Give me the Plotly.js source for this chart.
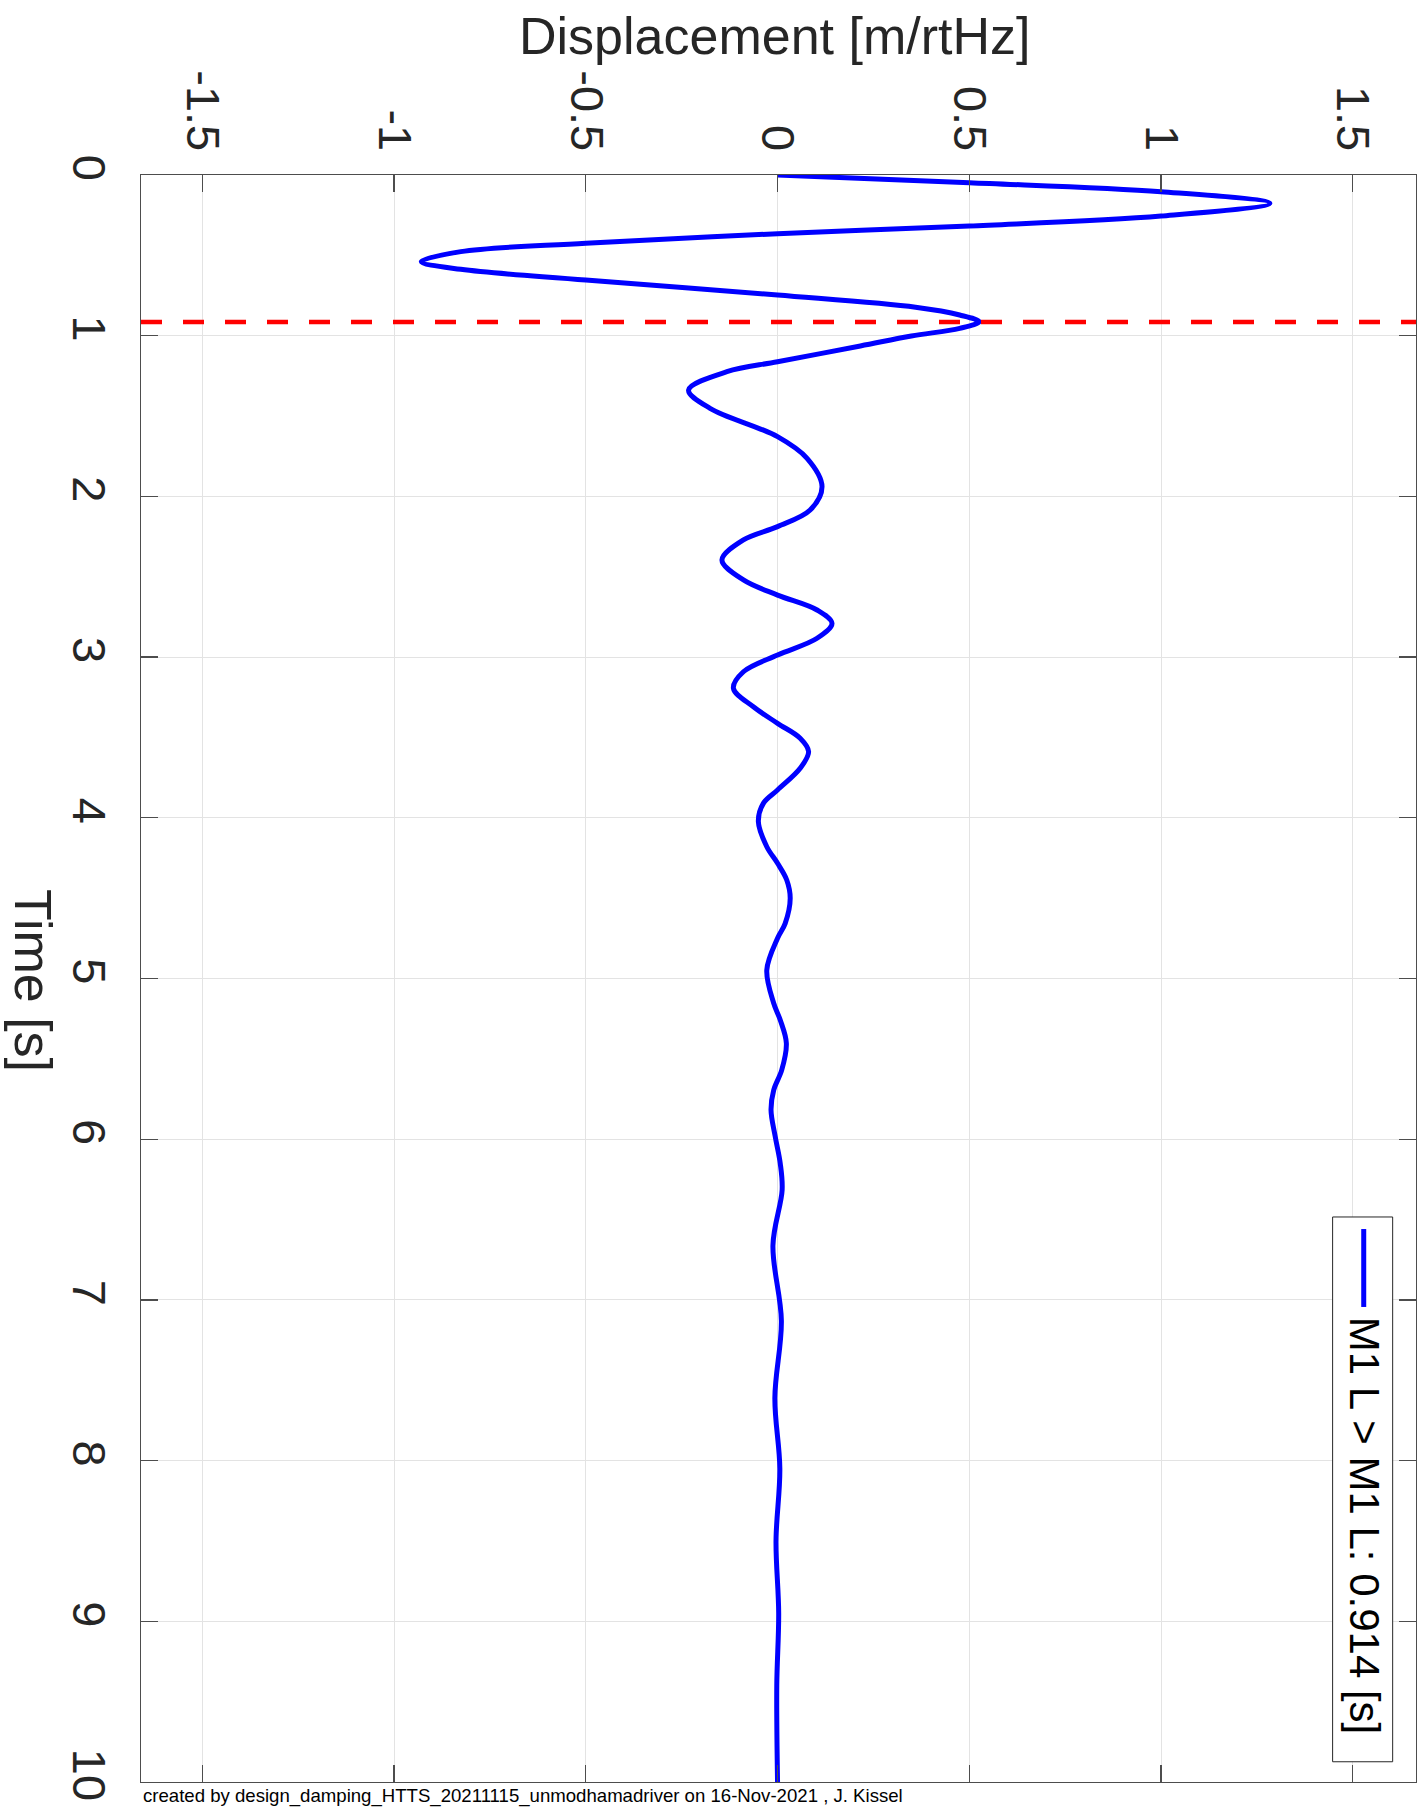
<!DOCTYPE html>
<html>
<head>
<meta charset="utf-8">
<script src="https://cdn.plot.ly/plotly-3.0.1.min.js"></script>
<style>
  html, body { margin: 0; padding: 0; background: #ffffff; }
  #chart { width: 1419px; height: 1809px; }
</style>
</head>
<body>
<div id="chart"></div>
<script>
// Impulse response of the M1 L > M1 L path, plotted with time running downward.
const timeSec = [
  0, 0.048, 0.104, 0.176, 0.255, 0.317, 0.365, 0.425,
  0.477, 0.539, 0.587, 0.653, 0.747, 0.823, 0.871, 0.913, 0.954,
  1.002, 1.064, 1.162, 1.224, 1.338, 1.452, 1.628, 1.763, 1.939, 2.085,
  2.188, 2.271, 2.396, 2.52, 2.614, 2.707, 2.79, 2.883, 2.987, 3.091,
  3.194, 3.309, 3.412, 3.505, 3.588, 3.692, 3.827, 3.91, 4.024, 4.18,
  4.283, 4.387, 4.501, 4.657, 4.75, 4.947, 5.154, 5.258, 5.403, 5.569,
  5.694, 5.818, 5.984, 6.15, 6.316, 6.66, 7.13, 7.61, 8.05, 8.5,
  8.95, 9.4, 10
];
const displacement = [
  0, 0.5, 1.0, 1.284, 1.0, 0.5, 0, -0.5,
  -0.826, -0.929, -0.826, -0.5, 0, 0.36, 0.475, 0.526, 0.475,
  0.349, 0.216, 0, -0.132, -0.232, -0.176, 0, 0.077, 0.116, 0.085,
  0, -0.089, -0.145, -0.089, 0, 0.103, 0.142, 0.103, 0, -0.089,
  -0.115, -0.063, 0, 0.059, 0.081, 0.059, 0, -0.037, -0.050, -0.028,
  0, 0.024, 0.033, 0.020, 0, -0.028, -0.010, 0.007, 0.023, 0.011,
  -0.010, -0.017, -0.006, 0.007, 0.012, -0.012, 0.010, -0.007, 0.006, -0.004,
  0.003, -0.002, 0
];

// Marked settling time
const settleTime = 0.914;
const seriesName = 'M1 L > M1 L: 0.914 [s]';

// Tick labels
const dispTicks = [-1.5, -1, -0.5, 0, 0.5, 1, 1.5];
const dispTickText = ['-1.5', '-1', '-0.5', '0', '0.5', '1', '1.5'];
const timeTicks = [0, 1, 2, 3, 4, 5, 6, 7, 8, 9, 10];
const timeTickText = ['0', '1', '2', '3', '4', '5', '6', '7', '8', '9', '10'];

const FONT = 'Liberation Sans, Arial, Helvetica, sans-serif';
const INK = '#262626';

const trace = {
  type: 'scatter',
  mode: 'lines',
  name: seriesName,
  x: displacement,
  y: timeSec,
  line: { color: '#0000ff', width: 5, shape: 'spline', smoothing: 1 },
  hoverinfo: 'x+y'
};

const axisCommon = {
  showline: true,
  linecolor: '#4d4d4d',
  linewidth: 1.3,
  mirror: 'ticks',
  ticks: 'inside',
  ticklen: 17,
  tickwidth: 1.3,
  tickcolor: '#4d4d4d',
  showgrid: true,
  gridcolor: '#e3e3e3',
  gridwidth: 1,
  zeroline: false,
  automargin: false,
  tickangle: 90,
  tickfont: { family: FONT, size: 47, color: INK }
};

const layout = {
  width: 1419,
  height: 1809,
  margin: { l: 141, r: 3, t: 175, b: 27, pad: 0 },
  paper_bgcolor: '#ffffff',
  plot_bgcolor: '#ffffff',
  showlegend: false,
  xaxis: Object.assign({}, axisCommon, {
    side: 'top',
    range: [-1.66, 1.665],
    tickmode: 'array',
    tickvals: dispTicks,
    ticktext: dispTickText,
    ticklabelstandoff: 6
  }),
  yaxis: Object.assign({}, axisCommon, {
    range: [10, 0],
    tickmode: 'array',
    tickvals: timeTicks,
    ticktext: timeTickText,
    ticklabelstandoff: 10
  }),
  shapes: [
    // settling-time marker
    {
      type: 'line', xref: 'paper', yref: 'y',
      x0: 0, x1: 1, y0: settleTime, y1: settleTime,
      line: { color: '#ff0000', width: 4.5, dash: '21px,21px' },
      layer: 'above'
    },
    // legend box
    {
      type: 'rect', xref: 'paper', yref: 'paper',
      x0: 0.9346, x1: 0.9817, y0: 0.0126, y1: 0.3516,
      line: { color: '#262626', width: 1 },
      fillcolor: '#ffffff',
      layer: 'above'
    },
    // legend line sample
    {
      type: 'line', xref: 'paper', yref: 'paper',
      x0: 0.959, x1: 0.959, y0: 0.3441, y1: 0.2956,
      line: { color: '#0000ff', width: 5 },
      layer: 'above'
    }
  ],
  annotations: [
    {
      text: 'Displacement [m/rtHz]',
      xref: 'paper', yref: 'paper', x: 0.4965, y: 1.0862,
      xanchor: 'center', yanchor: 'middle', showarrow: false,
      font: { family: FONT, size: 52, color: INK }
    },
    {
      text: 'Time [s]',
      xref: 'paper', yref: 'paper', x: -0.0847, y: 0.499,
      xanchor: 'center', yanchor: 'middle', showarrow: false, textangle: 90,
      font: { family: FONT, size: 52, color: INK }
    },
    {
      text: seriesName,
      xref: 'paper', yref: 'paper', x: 0.9598, y: 0.1596,
      xanchor: 'center', yanchor: 'middle', showarrow: false, textangle: 90,
      font: { family: FONT, size: 42, color: '#000000' }
    },
    {
      text: 'created by design_damping_HTTS_20211115_unmodhamadriver on 16-Nov-2021 , J. Kissel',
      xref: 'paper', yref: 'paper', x: 0, y: -0.0087,
      xanchor: 'left', yanchor: 'middle', showarrow: false,
      font: { family: FONT, size: 18.6, color: '#000000' }
    }
  ]
};

Plotly.newPlot('chart', [trace], layout, { displayModeBar: false, staticPlot: true });
</script>
</body>
</html>
